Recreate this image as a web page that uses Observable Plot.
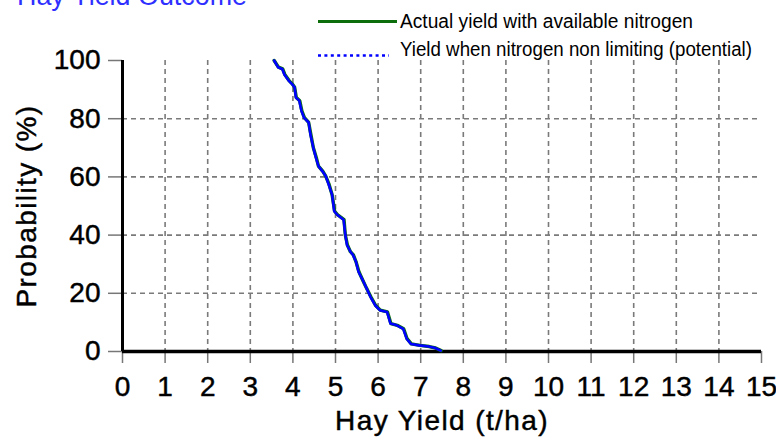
<!DOCTYPE html>
<html>
<head>
<meta charset="utf-8">
<script src="https://cdn.jsdelivr.net/npm/d3@7"></script>
<script src="https://cdn.jsdelivr.net/npm/@observablehq/plot@0.6"></script>
<style>
  html, body { margin: 0; padding: 0; background: #fff; }
  #wrap { position: relative; width: 776px; height: 438px; overflow: hidden; }
  #overlay { position: absolute; left: 0; top: 0; }
</style>
</head>
<body>
<div id="wrap"></div>
<script>
// ---- data ----
const titleText = "Hay Yield Outcome";
const xLabel = "Hay Yield (t/ha)";
const yLabel = "Probability (%)";
const seriesNames = ["Actual yield with available nitrogen", "Yield when nitrogen non limiting (potential)"];
const xTicks = [0, 1, 2, 3, 4, 5, 6, 7, 8, 9, 10, 11, 12, 13, 14, 15];
const yTicks = [0, 20, 40, 60, 80, 100];

// actual yield (t/ha) vs probability of exceedance (%)
const yieldActual = [3.56, 3.66, 3.76, 3.81, 3.91, 3.99, 4.04, 4.08, 4.16, 4.21, 4.27, 4.37, 4.42, 4.48, 4.55, 4.60, 4.70, 4.77, 4.85, 4.92, 4.98, 5.05, 5.20, 5.23, 5.28, 5.35, 5.42, 5.48, 5.55, 5.64, 5.73, 5.83, 5.94, 6.05, 6.22, 6.30, 6.45, 6.60, 6.68, 6.78, 6.98, 7.20, 7.35, 7.48];
const probActual  = [100, 97.7, 97.1, 95.2, 93.1, 91.9, 90.8, 87.3, 86.2, 82.7, 80.4, 78.7, 74.7, 70.0, 66.6, 63.7, 62.0, 60.3, 57.4, 53.9, 48.2, 47.0, 45.3, 40.1, 36.6, 34.3, 33.2, 30.9, 27.4, 24.5, 21.7, 18.8, 15.9, 14.2, 13.6, 9.6, 9.0, 7.8, 4.4, 2.6, 2.1, 1.7, 1.2, 0.3];
// potential yield (nitrogen non limiting)
const yieldPotential = [3.56, 3.65, 3.75, 3.80, 3.90, 3.98, 4.04, 4.07, 4.15, 4.20, 4.26, 4.37, 4.41, 4.48, 4.54, 4.60, 4.69, 4.77, 4.84, 4.92, 4.97, 5.04, 5.19, 5.23, 5.27, 5.35, 5.41, 5.48, 5.54, 5.64, 5.73, 5.82, 5.93, 6.04, 6.21, 6.29, 6.44, 6.59, 6.67, 6.77, 6.97, 7.19, 7.34, 7.47];
const probPotential  = [100, 97.7, 97.1, 95.2, 93.1, 91.9, 90.8, 87.3, 86.2, 82.7, 80.4, 78.7, 74.7, 70.0, 66.6, 63.7, 62.0, 60.3, 57.4, 53.9, 48.2, 47.0, 45.3, 40.1, 36.6, 34.3, 33.2, 30.9, 27.4, 24.5, 21.7, 18.8, 15.9, 14.2, 13.6, 9.6, 9.0, 7.8, 4.4, 2.6, 2.1, 1.7, 1.2, 0.3];

const actual = yieldActual.map((x, i) => ({x, y: probActual[i]}));
const potential = yieldPotential.map((x, i) => ({x, y: probPotential[i]}));

const green = "#0b6e0b";
const blue = "#0000ff";
const font = "'Liberation Sans', Arial, sans-serif";

const chart = Plot.plot({
  width: 776,
  height: 438,
  marginLeft: 122,
  marginRight: 15,
  marginTop: 60,
  marginBottom: 87,
  style: {fontFamily: font, background: "#fff", color: "#000", overflow: "visible"},
  x: {domain: [0, 15]},
  y: {domain: [0, 100]},
  marks: [
    Plot.gridX(xTicks.filter(d => d > 0 && d < 15), {stroke: "#7a7a7a", strokeOpacity: 1, strokeWidth: 1.6, strokeDasharray: "5,4"}),
    Plot.gridY(yTicks.filter(d => d > 0 && d < 100), {stroke: "#7a7a7a", strokeOpacity: 1, strokeWidth: 1.6, strokeDasharray: "5,4"}),
    Plot.axisX(xTicks, {tickSize: 12, tickPadding: 13, fontSize: 28, stroke: "#777", strokeWidth: 1.5, fill: "#000", tickFormat: d3.format("d"), label: null}),
    Plot.axisY(yTicks, {tickSize: 14, tickPadding: 8, fontSize: 28, stroke: "#777", strokeWidth: 1.5, fill: "#000", tickFormat: d3.format("d"), label: null}),
    Plot.ruleX([0], {stroke: "#000", strokeWidth: 3}),
    Plot.ruleY([0], {stroke: "#000", strokeWidth: 3.5}),
    Plot.line(actual, {x: "x", y: "y", stroke: green, strokeWidth: 3.4}),
    Plot.line(potential, {x: "x", y: "y", stroke: blue, strokeWidth: 2.6}),
    Plot.text([xLabel], {frameAnchor: "bottom", textAnchor: "middle", lineAnchor: "bottom", dy: 78, fontSize: 28, fill: "#000"}),
    Plot.text([yLabel], {frameAnchor: "left", textAnchor: "middle", lineAnchor: "bottom", rotate: -90, dx: -87, fontSize: 28, fill: "#000"})
  ]
});

document.getElementById("wrap").appendChild(chart);

// letter spacing for axis titles
d3.select(chart).selectAll("text").filter(function() { return this.textContent === xLabel || this.textContent === yLabel; })
  .style("letter-spacing", "1.4px");
// slightly heavier glyphs, like the reference rendering
d3.select(chart).selectAll("text")
  .style("stroke", "#000").style("stroke-width", "0.45px").style("paint-order", "fill");

// title and legend overlay (top margin)
const ov = d3.select("#wrap").append("svg")
  .attr("id", "overlay")
  .attr("width", 776).attr("height", 60)
  .style("font-family", font);

ov.append("text").text(titleText)
  .attr("x", 17).attr("y", 5)
  .attr("font-size", 27).attr("fill", "#2f2fff")
  .attr("textLength", 230).attr("lengthAdjust", "spacingAndGlyphs");

ov.append("line").attr("x1", 318).attr("x2", 397).attr("y1", 21.5).attr("y2", 21.5)
  .attr("stroke", green).attr("stroke-width", 3);
ov.append("text").text(seriesNames[0])
  .attr("x", 400).attr("y", 28).attr("font-size", 20).attr("fill", "#000")
  .attr("textLength", 293).attr("lengthAdjust", "spacingAndGlyphs");

ov.append("line").attr("x1", 318).attr("x2", 389).attr("y1", 55.5).attr("y2", 55.5)
  .attr("stroke", blue).attr("stroke-width", 2.5).attr("stroke-dasharray", "3,3.4");
ov.append("text").text(seriesNames[1])
  .attr("x", 400).attr("y", 55.5).attr("font-size", 20).attr("fill", "#000")
  .attr("textLength", 352).attr("lengthAdjust", "spacingAndGlyphs");
</script>
</body>
</html>
